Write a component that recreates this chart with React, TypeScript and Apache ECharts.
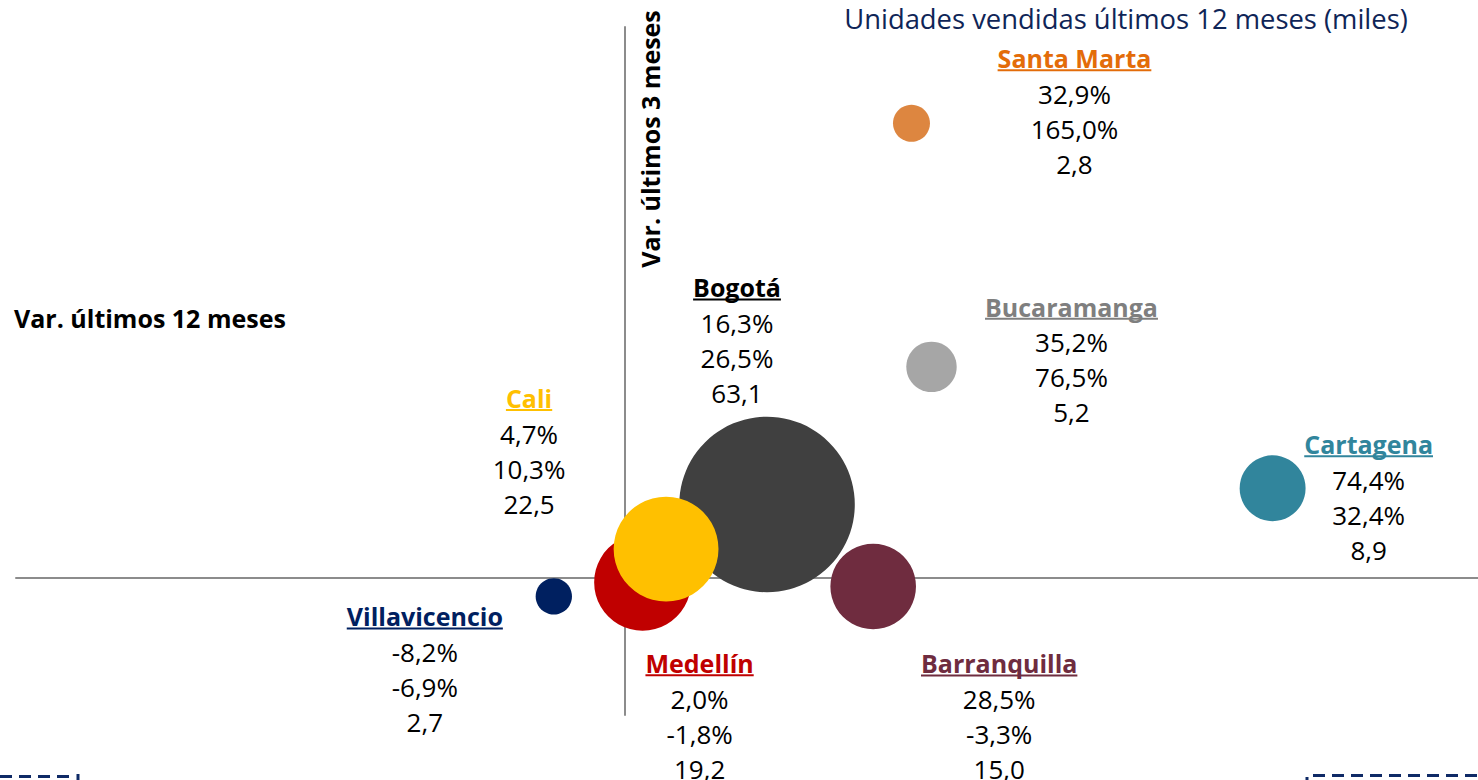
import React, { useEffect, useRef } from 'react';
import * as echarts from 'echarts';

// ---- Data ----
const cities = ['Bogotá', 'Medellín', 'Cali', 'Barranquilla', 'Cartagena', 'Bucaramanga', 'Santa Marta', 'Villavicencio'];
const var12m = [16.3, 2.0, 4.7, 28.5, 74.4, 35.2, 32.9, -8.2];
const var3m = [26.5, -1.8, 10.3, -3.3, 32.4, 76.5, 165.0, -6.9];
const unitsK = [63.1, 19.2, 22.5, 15.0, 8.9, 5.2, 2.8, 2.7];

// ---- Styles ----
const bubbleColors = ['#404040', '#C00000', '#FFC000', '#6F2C3F', '#31859C', '#A6A6A6', '#DD8640', '#002060'];
const nameColors = ['#000000', '#C00000', '#FFC000', '#6F2C3F', '#31859C', '#7F7F7F', '#E36C09', '#002060'];
// label offsets [dx, dy to top of label block] relative to bubble centre
const labelOffsets: number[][] = [
  [-30, -228],
  [57, 70],
  [-137, -162],
  [126, 66],
  [96, -55],
  [140, -71],
  [163, -76],
  [-129, 9],
];

const FONT = '"Open Sans", "Noto Sans", sans-serif';
const NAME_SIZE = 25;
const VALUE_SIZE = 26;
const fmtPct = (v: number) => v.toFixed(1).replace('.', ',') + '%';
const fmtNum = (v: number) => v.toFixed(1).replace('.', ',');

export default function App() {
  const ref = useRef<HTMLDivElement>(null);
  useEffect(() => {
    document.body.style.margin = '0';
    if (!ref.current) return;
    const chart = echarts.init(ref.current, undefined, { renderer: 'svg' });
    const ctx = document.createElement('canvas').getContext('2d')!;
    ctx.font = `bold ${NAME_SIZE}px ${FONT}`;

    const data = cities.map((c, i) => {
      const w = ctx.measureText(c).width;
      return {
        name: c,
        value: [var12m[i], var3m[i], unitsK[i]],
        itemStyle: { color: bubbleColors[i], opacity: 1 },
        label: {
          offset: labelOffsets[i],
          formatter: () =>
            `{n|${c}}\n{u|}\n{v|${fmtPct(var12m[i])}}\n{v|${fmtPct(var3m[i])}}\n{v|${fmtNum(unitsK[i])}}`,
          rich: {
            n: { fontFamily: FONT, fontWeight: 'bold', fontSize: NAME_SIZE, color: nameColors[i], lineHeight: 22 },
            u: { width: w, height: 2, lineHeight: 7, backgroundColor: nameColors[i], verticalAlign: 'top' },
            v: { fontFamily: FONT, fontSize: VALUE_SIZE, color: '#000000', lineHeight: 35 },
          },
        },
      };
    });

    const axisCommon = {
      type: 'value',
      axisLine: { show: true, onZero: true, lineStyle: { color: '#8c8c8c', width: 2 } },
      axisTick: { show: false },
      axisLabel: { show: false },
      splitLine: { show: false },
    };

    const dashStyle = { stroke: '#0f2a66', lineWidth: 3, lineDash: [12, 7] };
    const tickStyle = { stroke: '#0f2a66', lineWidth: 3 };

    chart.setOption({
      animation: false,
      grid: { left: 16, right: 0, top: 27, bottom: 65 },
      xAxis: { ...axisCommon, min: -70, max: 98 },
      yAxis: { ...axisCommon, min: -50, max: 200 },
      series: [
        {
          type: 'scatter',
          data,
          symbolSize: (v: number[]) => 22.1 * Math.sqrt(v[2]),
          emphasis: { disabled: true },
          label: {
            show: true,
            position: 'inside',
            align: 'center',
            verticalAlign: 'top',
          },
        },
      ],
      graphic: [
        {
          type: 'text',
          x: 1126,
          y: 18,
          style: {
            text: 'Unidades vendidas últimos 12 meses (miles)',
            fill: '#0f2557',
            font: `27.4px ${FONT}`,
            align: 'center',
            verticalAlign: 'middle',
          },
        },
        {
          type: 'text',
          x: 14,
          y: 318,
          style: {
            text: 'Var. últimos 12 meses',
            fill: '#000000',
            font: `bold 25px ${FONT}`,
            align: 'left',
            verticalAlign: 'middle',
          },
        },
        {
          type: 'text',
          x: 650,
          y: 139,
          rotation: Math.PI / 2,
          style: {
            text: 'Var. últimos 3 meses',
            fill: '#000000',
            font: `bold 25px ${FONT}`,
            align: 'center',
            verticalAlign: 'middle',
          },
        },
        { type: 'line', shape: { x1: 0, y1: 776.5, x2: 74, y2: 776.5 }, style: dashStyle },
        { type: 'line', shape: { x1: 78, y1: 774, x2: 78, y2: 780 }, style: tickStyle },
        { type: 'line', shape: { x1: 1313, y1: 775.5, x2: 1478, y2: 775.5 }, style: dashStyle },
        { type: 'line', shape: { x1: 1307, y1: 777, x2: 1307, y2: 780 }, style: tickStyle },
      ],
    });
    return () => chart.dispose();
  }, []);
  return <div ref={ref} style={{ width: 1478, height: 780 }} />;
}
